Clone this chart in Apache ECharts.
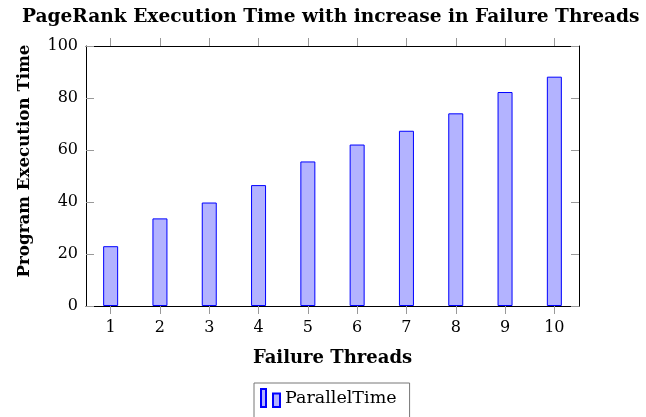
<!DOCTYPE html>
<html>
<head>
<meta charset="utf-8">
<script src="https://cdn.jsdelivr.net/npm/echarts@6/dist/echarts.min.js"></script>
<style>
  html, body { margin: 0; padding: 0; background: #fff; }
  #chart { width: 646px; height: 417px; }
</style>
</head>
<body>
<div id="chart"></div>
<script>
  // data
  const threads = ['1', '2', '3', '4', '5', '6', '7', '8', '9', '10'];
  const parallelTime = [23.0, 33.7, 39.8, 46.5, 55.6, 62.1, 67.4, 74.1, 82.3, 88.2];
  const yTicks = [0, 20, 40, 60, 80, 100];

  const serif = '"DejaVu Serif", "Liberation Serif", serif';
  const tickGray = '#999';

  const chart = echarts.init(document.getElementById('chart'));

  // box lines must stay on the grid edges, not jump to y = 0
  const boxLine = () => ({ show: true, onZero: false, lineStyle: { color: '#000', width: 1 } });
  const catTick = () => ({ show: true, inside: false, interval: 0, alignWithLabel: true, length: 8, lineStyle: { color: tickGray, width: 1 } });
  const valTick = () => ({ show: true, inside: true, length: 8, lineStyle: { color: tickGray, width: 1 } });

  const option = {
    animation: false,
    title: {
      text: 'PageRank Execution Time with increase in Failure Threads',
      left: 22,
      top: 8,
      padding: 0,
      textStyle: { fontFamily: serif, fontWeight: 'bold', fontSize: 18.6, color: '#000' },
    },
    grid: { left: 86, right: 67, top: 46, bottom: 111 },
    legend: {
      data: ['ParallelTime'],
      left: 254,
      top: 383,
      padding: [5, 13, 14, 6],
      borderColor: '#777',
      borderWidth: 1,
      borderRadius: 0,
      backgroundColor: '#fff',
      itemWidth: 19,
      itemHeight: 18,
      icon: 'path://M0,0H5V18H0Z M12,4.5H19V18H12Z',
      textStyle: { fontFamily: serif, fontSize: 17.5, color: '#000' },
    },
    xAxis: [
      {
        type: 'category',
        data: threads,
        position: 'bottom',
        name: 'Failure Threads',
        nameLocation: 'middle',
        nameGap: 43,
        nameTextStyle: { fontFamily: serif, fontWeight: 'bold', fontSize: 18, color: '#000' },
        axisLine: boxLine(),
        axisTick: catTick(),
        axisLabel: { interval: 0, margin: 14, fontFamily: serif, fontSize: 16, color: '#000' },
        splitLine: { show: false },
      },
      {
        type: 'category',
        data: threads,
        position: 'top',
        axisLine: boxLine(),
        axisTick: catTick(),
        axisLabel: { show: false, interval: 0 },
        splitLine: { show: false },
      },
    ],
    yAxis: [
      {
        type: 'value',
        min: yTicks[0],
        max: yTicks[yTicks.length - 1],
        interval: 20,
        position: 'left',
        name: 'Program Execution Time',
        nameLocation: 'middle',
        nameGap: 53,
        nameTextStyle: { fontFamily: serif, fontWeight: 'bold', fontSize: 16.7, color: '#000', padding: [0, 0, 0, 30] },
        axisLine: boxLine(),
        axisTick: valTick(),
        axisLabel: { margin: 8, fontFamily: serif, fontSize: 16, color: '#000' },
        splitLine: { show: false },
      },
      {
        type: 'value',
        min: yTicks[0],
        max: yTicks[yTicks.length - 1],
        interval: 20,
        position: 'right',
        axisLine: boxLine(),
        axisTick: valTick(),
        axisLabel: { show: false },
        splitLine: { show: false },
      },
    ],
    series: [
      {
        name: 'ParallelTime',
        type: 'bar',
        data: parallelTime,
        barWidth: 15,
        itemStyle: { color: '#b3b3ff', borderColor: '#0000ff', borderWidth: 1 },
      },
    ],
  };

  chart.setOption(option);
</script>
</body>
</html>
